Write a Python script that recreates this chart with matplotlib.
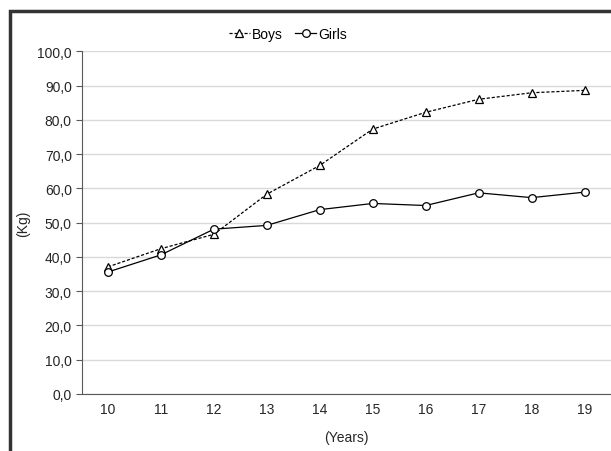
import matplotlib
matplotlib.use("Agg")
import matplotlib.pyplot as plt
from matplotlib.patches import Rectangle
from matplotlib.ticker import FuncFormatter

plt.rcParams['font.family'] = ['Liberation Sans', 'DejaVu Sans']
plt.rcParams['font.stretch'] = 'condensed'

years = [10, 11, 12, 13, 14, 15, 16, 17, 18, 19]
boys = [37.1, 42.4, 46.6, 58.3, 66.7, 77.3, 82.2, 86.0, 87.9, 88.6]
girls = [35.6, 40.6, 48.1, 49.2, 53.8, 55.6, 55.0, 58.7, 57.3, 58.9]

fig = plt.figure(figsize=(6.11, 4.52), dpi=100)
ax = fig.add_axes([81.5 / 611, 57 / 452, 529.5 / 611, 342.7 / 452])

# outer frame (only top/left visible in the crop)
fig.patches.append(Rectangle((9.5 / 611, -0.1), 1.2, (452 - 11.5) / 452 + 0.1,
                             transform=fig.transFigure, fill=False,
                             edgecolor='#333333', linewidth=2.5))

ax.plot(years, boys, linestyle=(0, (2.5, 1.5)), color='black', linewidth=0.9,
        marker='^', markersize=5.5, markerfacecolor='white', markeredgecolor='black',
        markeredgewidth=0.9, label='Boys', zorder=3)
ax.plot(years, girls, linestyle='-', color='black', linewidth=0.9,
        marker='o', markersize=5.5, markerfacecolor='white', markeredgecolor='black',
        markeredgewidth=0.9, label='Girls', zorder=3)

ax.set_xlim(9.5, 19.5)
ax.set_ylim(0, 100)
ax.set_yticks(range(0, 101, 10))
ax.set_xticks(years)
ax.yaxis.set_major_formatter(FuncFormatter(lambda v, p: f"{v:.1f}".replace('.', ',')))
ax.grid(axis='y', color='#d9d9d9', linewidth=1)
ax.set_axisbelow(True)

for s in ['top', 'right']:
    ax.spines[s].set_visible(False)
ax.spines['left'].set_color('#595959')
ax.spines['bottom'].set_color('#595959')
ax.tick_params(axis='y', length=4, color='#595959', labelsize=10, labelcolor='#262626', pad=3)
ax.tick_params(axis='x', length=0, labelsize=10, labelcolor='#262626', pad=6)

ax.set_xlabel('(Years)', fontsize=10, color='#262626', labelpad=10)
ax.set_ylabel('(Kg)', fontsize=10, color='#262626', labelpad=5)

ax.legend(loc='lower center', bbox_to_anchor=(0.39, 1.0), ncol=2, frameon=False,
          fontsize=10, handlelength=1.5, columnspacing=0.9, handletextpad=0.15,
          borderaxespad=0.35)

fig.savefig('out.png', dpi=100)
